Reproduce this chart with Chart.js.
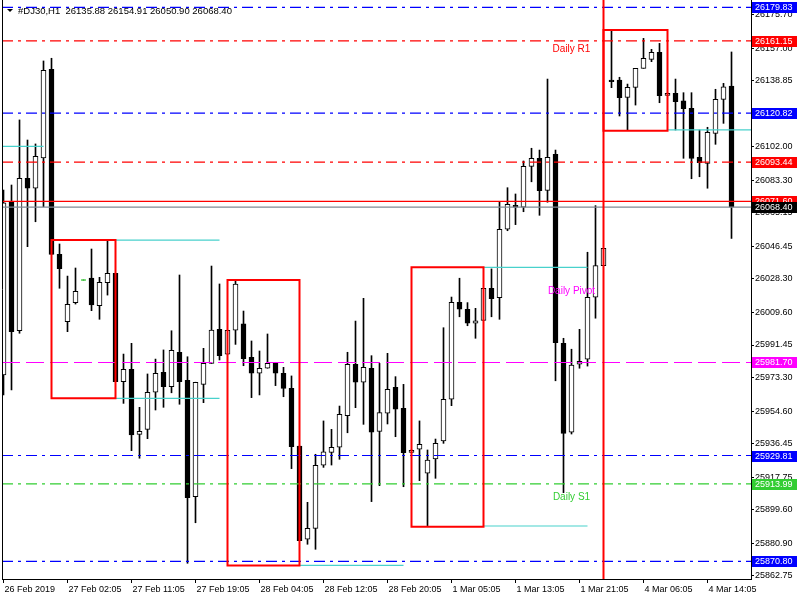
<!DOCTYPE html>
<html>
<head>
<meta charset="utf-8">
<script src="https://cdn.jsdelivr.net/npm/chart.js@4.4.1/dist/chart.umd.min.js"></script>
<style>
html, body { margin: 0; padding: 0; background: #fff; }
canvas { display: block; }
</style>
</head>
<body>
<canvas id="dj30-chart" width="800" height="600"></canvas>
<script>
const symbolTitle = "#DJ30,H1  26135.88 26154.91 26050.90 26068.40";

// H1 bars, oldest first
const opens = [
  25974.7, 26071.6, 25999.4, 26084.4, 26078.9, 26095.8, 26145.2, 26042.0, 26004.5, 26015.1,
  26027.7, 26028.8, 26013.4, 26026.2, 26031.5, 25971.0, 25977.9, 25941.6, 25944.4, 25965.1,
  25976.2, 25968.2, 25987.4, 25971.8, 25906.8, 25969.5, 25981.2, 26000.2, 25986.3, 25999.7,
  26003.2, 25984.6, 25975.7, 25978.5, 25981.2, 25975.7, 25967.3, 25935.1, 25883.1, 25889.2,
  25924.4, 25931.6, 25934.4, 25952.0, 25980.7, 25970.7, 25978.5, 25943.3, 25953.4, 25967.9,
  25956.2, 25931.6, 25933.3, 25919.9, 25927.9, 25937.9, 25961.2, 26015.3, 26011.4, 26003.6,
  26005.2, 26023.1, 26017.8, 26056.0, 26069.4, 26068.4, 26091.1, 26095.6, 26077.7, 26097.8,
  25992.4, 25942.8, 25980.7, 25983.5, 26018.1, 26035.7, 26139.3, 26139.3, 26129.6, 26135.2,
  26145.8, 26150.8, 26154.7, 26130.7, 26131.9, 26127.6, 26123.5, 26096.2, 26092.8, 26109.5,
  26128.5, 26135.88
];
const highs = [
  26077.9, 26080.7, 26117.0, 26105.8, 26103.6, 26149.9, 26151.4, 26047.8, 26029.9, 26034.4,
  26027.7, 26045.0, 26029.2, 26049.5, 26031.5, 25986.4, 25992.4, 25956.7, 25975.3, 25983.6,
  25988.7, 25999.4, 26030.5, 25984.9, 25970.7, 25989.6, 26035.5, 26025.5, 25999.7, 26027.3,
  26010.4, 25993.7, 25988.1, 25997.6, 25981.2, 25979.0, 25974.2, 25935.1, 25903.7, 25930.5,
  25949.1, 25944.4, 25957.4, 25987.4, 26004.8, 26017.5, 25985.5, 25981.2, 25986.8, 25973.8,
  25969.5, 25933.0, 25949.1, 25932.9, 25939.0, 26001.1, 26018.2, 26028.7, 26015.1, 26011.9,
  26023.1, 26033.9, 26071.4, 26079.2, 26075.7, 26094.1, 26101.2, 26100.2, 26139.8, 26100.2,
  25995.2, 25989.1, 26000.2, 26043.2, 26069.2, 26045.4, 26166.6, 26140.8, 26137.0, 26145.8,
  26162.5, 26156.4, 26159.7, 26132.0, 26139.8, 26132.2, 26132.2, 26111.4, 26112.9, 26134.1,
  26137.4, 26154.91
];
const lows = [
  25963.6, 25966.4, 25998.0, 26046.3, 26060.2, 26068.6, 26042.0, 26023.1, 25998.9, 26014.3,
  26027.7, 26010.6, 26005.8, 26019.3, 25971.0, 25958.9, 25932.5, 25928.3, 25939.2, 25955.2,
  25956.7, 25964.8, 25958.4, 25869.7, 25892.3, 25959.3, 25981.2, 25983.1, 25986.3, 25991.8,
  25979.9, 25962.1, 25963.6, 25978.5, 25968.8, 25962.6, 25922.5, 25882.3, 25880.3, 25877.5,
  25923.2, 25924.5, 25927.7, 25942.5, 25956.5, 25947.2, 25904.1, 25913.0, 25947.4, 25940.3,
  25912.4, 25931.3, 25915.8, 25890.7, 25917.1, 25936.6, 25957.6, 26007.2, 26002.2, 25995.2,
  26005.2, 26007.2, 26005.8, 26055.2, 26058.6, 26065.8, 26082.5, 26063.8, 26071.1, 25971.5,
  25909.1, 25941.8, 25978.5, 25979.7, 26006.4, 26035.7, 26135.0, 26119.2, 26111.4, 26125.3,
  26145.8, 26149.5, 26126.6, 26130.6, 26111.4, 26095.6, 26084.2, 26085.3, 26078.9, 26103.4,
  26115.1, 26050.90
];
const closes = [
  26070.8, 25998.9, 26084.4, 26078.9, 26096.7, 26144.7, 26042.0, 26034.0, 26014.2, 26021.4,
  26027.7, 26013.8, 26026.4, 26031.5, 25971.0, 25977.9, 25941.3, 25943.3, 25965.1, 25975.7,
  25968.2, 25988.5, 25971.0, 25906.3, 25970.7, 25981.2, 25999.8, 25985.5, 25999.7, 26025.5,
  25983.8, 25975.7, 25978.5, 25981.2, 25975.7, 25967.3, 25934.7, 25882.3, 25889.2, 25924.4,
  25931.9, 25934.4, 25952.8, 25980.7, 25970.7, 25979.0, 25942.8, 25953.7, 25966.7, 25955.6,
  25931.4, 25932.7, 25936.1, 25927.3, 25936.6, 25961.2, 26015.3, 26011.4, 26003.6, 26005.0,
  26023.1, 26017.3, 26056.0, 26069.9, 26068.4, 26091.1, 26095.6, 26077.5, 26096.2, 25992.7,
  25942.2, 25980.3, 25982.4, 26018.1, 26035.7, 26045.4, 26138.3, 26129.4, 26135.2, 26145.8,
  26151.4, 26154.7, 26130.5, 26131.9, 26127.2, 26123.3, 26095.6, 26093.1, 26110.1, 26128.5,
  26135.5, 26068.40
];

const timeLabels = ["26 Feb 2019", "27 Feb 02:05", "27 Feb 11:05", "27 Feb 19:05", "28 Feb 04:05",
  "28 Feb 12:05", "28 Feb 20:05", "1 Mar 05:05", "1 Mar 13:05", "1 Mar 21:05", "4 Mar 06:05", "4 Mar 14:05"];
const timeLabelBars = [0, 8, 16, 24, 32, 40, 48, 56, 64, 72, 80, 88];

const priceTicks = [26175.70, 26157.00, 26138.85, 26120.40, 26102.00, 26083.30, 26065.15, 26046.45,
  26028.30, 26009.60, 25991.45, 25973.30, 25954.60, 25936.45, 25917.75, 25899.60, 25880.90, 25862.75];

// horizontal levels
const levelPrices = [26179.83, 26161.15, 26120.82, 26093.44, 26071.60, 26068.40, 25981.70, 25929.81, 25913.99, 25870.80];

// session boxes
const boxFrom = [6, 28, 51, 75];
const boxTo = [14, 37, 60, 83];
const boxHigh = [26050.0, 26027.7, 26034.8, 26167.2];
const boxLow = [25961.7, 25868.5, 25890.1, 26111.0];

// range lines after the boxes
const rangeFrom = [-1, 14, 14, 37, 60, 60, 83];
const rangeTo = [5, 27, 27, 50, 73, 73, 96];
const rangePrice = [26102.3, 26050.0, 25961.7, 25868.5, 26034.8, 25890.5, 26111.4];

const separatorBar = 75;

const pivotNames = ["Daily R1", "Daily Pivot", "Daily S1"];
const pivotNamePrices = [26156.6, 26021.6, 25906.7];
const pivotNameBar = 71;

// visible window
const xMin = -0.1875, xMax = 93.4375;
const yMin = 25860.93, yMax = 26183.90;

const BLUE = "#0000ff", RED = "#ff0000", MAGENTA = "#ff00ff", LIME = "#32cd32";
const DASHDOT = [11, 5, 3, 5];
const levelStyles = [
  {color: BLUE, box: BLUE, dash: DASHDOT},
  {color: RED, box: RED, dash: DASHDOT},
  {color: BLUE, box: BLUE, dash: DASHDOT},
  {color: RED, box: RED, dash: DASHDOT},
  {color: RED, box: RED, dash: []},
  {color: "#7f8a94", box: "#000000", dash: []},
  {color: MAGENTA, box: MAGENTA, dash: [18, 6]},
  {color: BLUE, box: BLUE, dash: DASHDOT},
  {color: LIME, box: LIME, dash: DASHDOT},
  {color: BLUE, box: BLUE, dash: DASHDOT},
];
const pivotColors = [RED, MAGENTA, LIME];
const AXIS_FONT = {family: "Liberation Sans", size: 9};

const isDoji = (i) => opens[i] === closes[i];

const datasets = [];

// candle bodies
datasets.push({
    type: "bar",
    order: 5,
    data: opens.map((o, i) => ({x: i, y: [o, closes[i]]})).filter((d, i) => !isDoji(i)),
    backgroundColor: (c) => (c.raw && c.raw.y[1] > c.raw.y[0] ? "#ffffff" : "#000000"),
    borderColor: "#000000",
    borderWidth: 1,
    borderSkipped: false,
    barThickness: 5,
    maxBarThickness: 5,
    grouped: false,
});
// wicks
datasets.push({
    type: "bar",
    order: 6,
    data: opens.map((o, i) => ({x: i, y: [lows[i], highs[i]]})),
    backgroundColor: "#000000",
    borderWidth: 0,
    barThickness: 1,
    maxBarThickness: 1,
    grouped: false,
});
// doji marks
datasets.push({
    type: "line",
    order: 4,
    showLine: false,
    data: opens.map((o, i) => ({x: i, y: o})).filter((d, i) => isDoji(i)),
    pointStyle: "line",
    pointRadius: 2.5,
    pointBorderColor: "#00c800",
    pointBorderWidth: 1,
});

levelPrices.forEach((p, i) => {
    datasets.push({
        type: "line",
        order: 2,
        data: [{x: xMin, y: p}, {x: xMax, y: p}],
        borderColor: levelStyles[i].color,
        borderDash: levelStyles[i].dash,
        borderWidth: 1.2,
        pointRadius: 0,
    });
});

rangePrice.forEach((p, i) => {
    datasets.push({
        type: "line",
        order: 3,
        data: [{x: rangeFrom[i], y: p}, {x: rangeTo[i], y: p}],
        borderColor: "#48d1cc",
        borderWidth: 1.2,
        pointRadius: 0,
    });
});

boxFrom.forEach((s, i) => {
    const e = boxTo[i];
    datasets.push({
        type: "line",
        order: 1,
        data: [
            {x: s, y: boxHigh[i]}, {x: e, y: boxHigh[i]},
            {x: e, y: boxLow[i]}, {x: s, y: boxLow[i]}, {x: s, y: boxHigh[i]},
        ],
        borderColor: RED,
        borderWidth: 2,
        borderJoinStyle: "miter",
        borderCapStyle: "square",
        pointRadius: 0,
        tension: 0,
    });
});

datasets.push({
    type: "line",
    order: 1,
    data: [{x: separatorBar, y: yMin}, {x: separatorBar, y: yMax}],
    borderColor: RED,
    borderWidth: 2,
    pointRadius: 0,
});

const overlay = {
    id: "overlay",
    afterDraw(chart) {
        const {ctx, chartArea: a, scales} = chart;
        const x = scales.x, y = scales.y;
        ctx.save();

        // left border
        ctx.strokeStyle = "#000";
        ctx.lineWidth = 1;
        ctx.beginPath();
        ctx.moveTo(a.left + 0.5, a.top);
        ctx.lineTo(a.left + 0.5, a.bottom);
        ctx.stroke();

        // title
        ctx.fillStyle = "#000";
        ctx.beginPath();
        ctx.moveTo(7, 9);
        ctx.lineTo(13, 9);
        ctx.lineTo(10, 12);
        ctx.closePath();
        ctx.fill();
        ctx.font = "9.5px 'Liberation Sans'";
        ctx.textBaseline = "middle";
        ctx.textAlign = "left";
        ctx.fillText(symbolTitle, 18, 11);

        // pivot names
        ctx.font = "10px 'Liberation Sans'";
        ctx.textAlign = "center";
        pivotNames.forEach((t, i) => {
            ctx.fillStyle = pivotColors[i];
            ctx.fillText(t, x.getPixelForValue(pivotNameBar), y.getPixelForValue(pivotNamePrices[i]));
        });

        // price boxes on the axis
        ctx.font = "9px 'Liberation Sans'";
        ctx.textAlign = "left";
        levelPrices.forEach((p, i) => {
            const py = Math.round(y.getPixelForValue(p));
            ctx.fillStyle = levelStyles[i].box;
            ctx.fillRect(a.right + 1, py - 5, 45, 11);
            ctx.fillStyle = "#fff";
            ctx.fillText(p.toFixed(2), a.right + 4, py + 0.5);
        });
        ctx.restore();
    }
};

new Chart(document.getElementById("dj30-chart").getContext("2d"), {
    type: "bar",
    data: {datasets},
    options: {
        responsive: false,
        animation: false,
        events: [],
        layout: {autoPadding: false, padding: {left: 2, top: 0, right: 0, bottom: 0}},
        plugins: {
            legend: {display: false},
            tooltip: {enabled: false},
        },
        scales: {
            x: {
                type: "linear",
                min: xMin,
                max: xMax,
                offset: false,
                afterBuildTicks: (s) => { s.ticks = timeLabelBars.map((v) => ({value: v})); },
                afterFit: (s) => { s.height = 21; s.paddingLeft = 0; s.paddingRight = 0; },
                grid: {drawOnChartArea: false, offset: false, tickLength: 4, color: "#000"},
                border: {color: "#000"},
                ticks: {
                    autoSkip: false,
                    maxRotation: 0,
                    align: "start",
                    labelOffset: 1,
                    padding: 1,
                    color: "#000",
                    font: AXIS_FONT,
                    callback: (v) => timeLabels[timeLabelBars.indexOf(v)],
                },
            },
            y: {
                type: "linear",
                position: "right",
                min: yMin,
                max: yMax,
                afterBuildTicks: (s) => { s.ticks = priceTicks.map((v) => ({value: v})); },
                afterFit: (s) => { s.width = 49; s.paddingTop = 0; s.paddingBottom = 0; },
                grid: {drawOnChartArea: false, tickLength: 3, color: "#000"},
                border: {color: "#000"},
                ticks: {
                    padding: 1,
                    crossAlign: "near",
                    color: "#000",
                    font: AXIS_FONT,
                    callback: (v) => v.toFixed(2),
                },
            },
        },
    },
    plugins: [overlay],
});
</script>
</body>
</html>
